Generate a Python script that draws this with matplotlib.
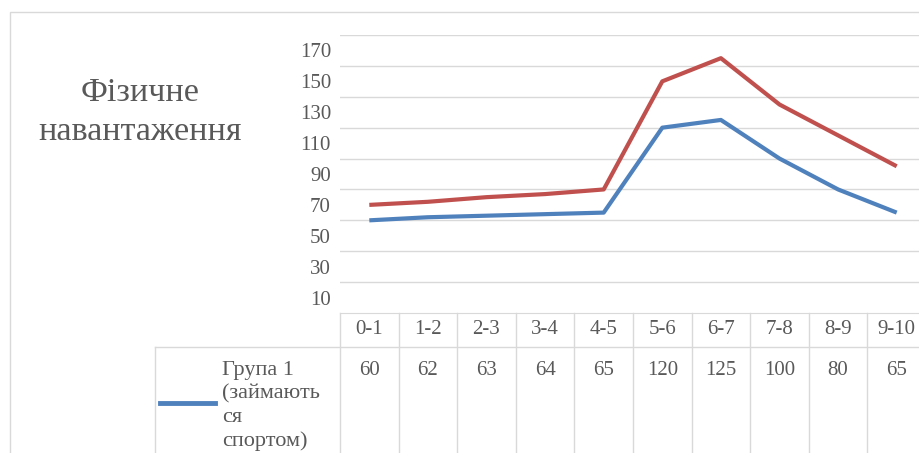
import matplotlib.pyplot as plt
from matplotlib.lines import Line2D
from matplotlib.patches import Rectangle

categories = ['0-1', '1-2', '2-3', '3-4', '4-5', '5-6', '6-7', '7-8', '8-9', '9-10']
group1 = [60, 62, 63, 64, 65, 120, 125, 100, 80, 65]
group2 = [70, 72, 75, 77, 80, 150, 165, 135, 115, 95]
group1_name = 'Група 1\n(займають\nся\nспортом)'
title = 'Фізичне\nнавантаження'
label_ticks = list(range(10, 171, 20))
grid_ticks = list(range(20, 181, 20))

blue = '#4F81BD'
red = '#C0504D'
grey = '#D9D9D9'
txt = '#595959'
plt.rcParams['font.family'] = ['Liberation Serif', 'DejaVu Serif']

W, H = 920, 453
fig = plt.figure(figsize=(W / 100, H / 100), dpi=100)

def fx(px):
    return px / W

def fy(py):
    return 1 - py / H

# chart border
fig.add_artist(Rectangle((fx(10), fy(470)), fx(950), fy(12) - fy(470),
                         transform=fig.transFigure, fill=False, ec=grey, lw=1))

ax = fig.add_axes([fx(340), fy(313), fx(586), fy(35) - fy(313)])
x = range(len(categories))
ax.plot(x, group2, color=red, lw=3, solid_capstyle='butt')
ax.plot(x, group1, color=blue, lw=3, solid_capstyle='butt')
ax.set_xlim(-0.5, len(categories) - 0.5)
ax.set_ylim(0, 180)
ax.set_yticks(label_ticks)
ax.set_yticks(grid_ticks, minor=True)
ax.set_xticks([])
ax.grid(which='minor', axis='y', color=grey, lw=1)
ax.tick_params(axis='y', which='both', length=0, pad=6.5, labelsize=15, labelcolor=txt)
for s in ['top', 'right', 'left']:
    ax.spines[s].set_visible(False)
ax.spines['bottom'].set_color(grey)

# data table below the plot
tr = ax.get_xaxis_transform()
row1 = -34 / 278
for i in range(len(categories) + 1):
    ax.plot([i - 0.5, i - 0.5], [0, -0.6], color=grey, lw=1, transform=tr, clip_on=False)
for i, c in enumerate(categories):
    ax.text(i, row1 / 2, c, transform=tr, ha='center', va='center',
            fontsize=15, color=txt)
    ax.text(i, row1 - 0.085, str(group1[i]), transform=tr, ha='center', va='center',
            fontsize=15, color=txt)

fig.add_artist(Line2D([fx(155), fx(930)], [fy(347), fy(347)], color=grey, lw=1,
                      transform=fig.transFigure))
fig.add_artist(Line2D([fx(155), fx(155)], [fy(347), fy(460)], color=grey, lw=1,
                      transform=fig.transFigure))
fig.add_artist(Line2D([fx(160), fx(215)], [fy(403), fy(403)], color=blue, lw=3.5,
                      transform=fig.transFigure))
fig.text(fx(222), fy(361), group1_name, ha='left', va='top', fontsize=16,
         color=txt, linespacing=1.3)

fig.text(fx(140), fy(112), title, ha='center', va='center', fontsize=24.5,
         color=txt, linespacing=1.36, multialignment='center')

fig.savefig('out.png', dpi=100)
